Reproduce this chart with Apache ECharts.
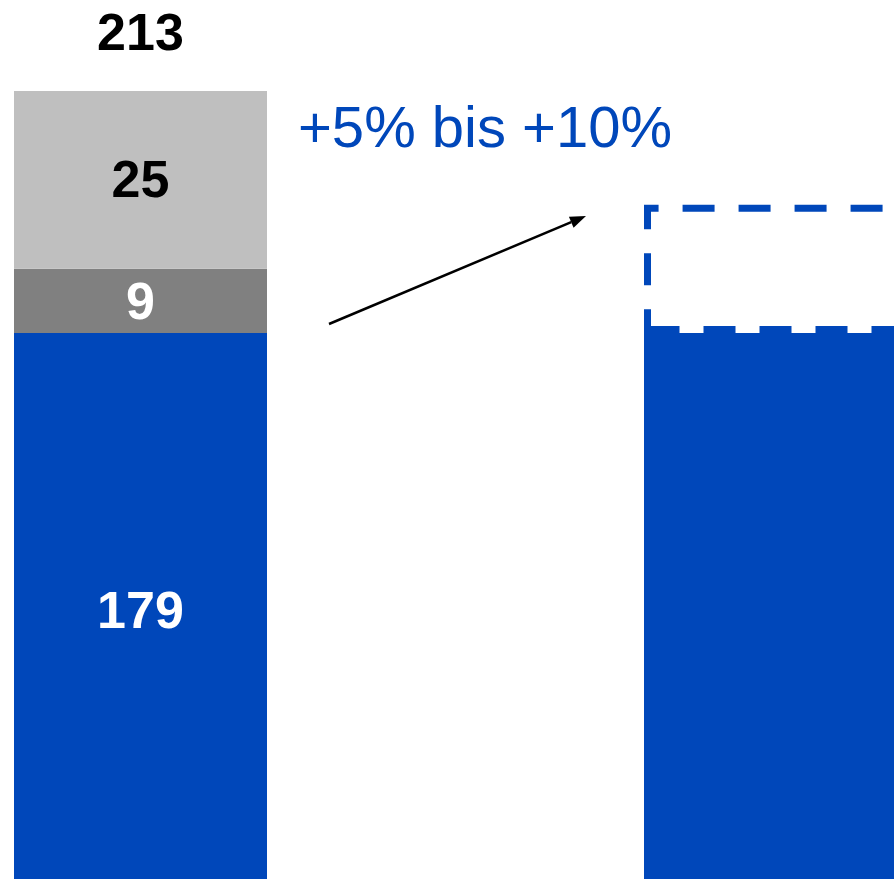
<!DOCTYPE html>
<html>
<head>
<meta charset="utf-8">
<script src="https://cdn.jsdelivr.net/npm/echarts@6/dist/echarts.min.js"></script>
<style>
html,body{margin:0;padding:0;background:#fff;}
#c{width:894px;height:879px;}
</style>
</head>
<body>
<div id="c"></div>
<script>
const categories = ['A', 'B'];
const baseValues = [179, '-'];
const darkValues = [9, '-'];
const lightValues = [25, '-'];
const targetBaseValues = ['-', 179];
const rangeValues = ['-', 18];
const annotationText = '+5% bis +10%';

const BLUE = '#0047BA';
const FONT = '"Liberation Sans", Arial, sans-serif';

const totals = categories.map((c, i) => {
  let s = 0;
  [baseValues, darkValues, lightValues].forEach(a => { if (typeof a[i] === 'number') s += a[i]; });
  return s;
});

const chart = echarts.init(document.getElementById('c'), null, {renderer: 'canvas'});

const labelBase = {fontFamily: FONT, fontWeight: 'bold', fontSize: 52};

// arrow geometry (annotation)
const tail = [329, 324], tip = [586, 216];
const dx = tip[0] - tail[0], dy = tip[1] - tail[1];
const len = Math.sqrt(dx * dx + dy * dy);
const ux = dx / len, uy = dy / len, nx = -uy, ny = ux;
const hl = 16, hw = 6;
const bx = tip[0] - hl * ux, by = tip[1] - hl * uy;

const common = {type: 'bar', barGap: '-100%'};

chart.setOption({
  animation: false,
  grid: {left: -101, right: -265, top: -30, bottom: -16, containLabel: false, outerBoundsMode: 'none'},
  xAxis: {type: 'category', data: categories, show: false},
  yAxis: {type: 'value', min: 100, max: 230, show: false, splitLine: {show: false}},
  series: [
    {
      ...common, stack: 'a', barWidth: 253, data: baseValues,
      itemStyle: {color: BLUE},
      label: {show: true, position: 'inside', color: '#fff', ...labelBase}
    },
    {
      ...common, stack: 'a', barWidth: 253, data: darkValues,
      itemStyle: {color: '#808080'},
      label: {show: true, position: 'inside', color: '#fff', offset: [0, 4], ...labelBase}
    },
    {
      ...common, stack: 'a', barWidth: 253, data: lightValues,
      itemStyle: {color: '#BFBFBF'},
      label: {show: true, position: 'inside', color: '#000', offset: [0, 3], ...labelBase}
    },
    {
      ...common, stack: 'a', barWidth: 253, data: [0, '-'],
      itemStyle: {color: 'rgba(0,0,0,0)'},
      label: {show: true, position: 'top', distance: 29, color: '#000', ...labelBase,
        formatter: p => String(totals[p.dataIndex])}
    },
    {
      ...common, stack: 'b', barWidth: 400, data: targetBaseValues,
      itemStyle: {color: BLUE},
      label: {show: false}
    },
    {
      ...common, stack: 'b', barWidth: 400, data: rangeValues,
      itemStyle: {color: '#fff', borderColor: BLUE, borderWidth: 7,
        borderType: [32, 24], borderDashOffset: 0},
      label: {show: false}
    }
  ],
  graphic: [
    {
      type: 'text', left: 298, top: 102,
      style: {text: annotationText, fill: BLUE, font: '58px ' + FONT}
    },
    {
      type: 'line',
      shape: {x1: tail[0], y1: tail[1], x2: bx, y2: by},
      style: {stroke: '#000', lineWidth: 2.5}
    },
    {
      type: 'polygon',
      shape: {points: [[tip[0], tip[1]], [bx + hw * nx, by + hw * ny], [bx - hw * nx, by - hw * ny]]},
      style: {fill: '#000'}
    }
  ]
});
</script>
</body>
</html>
